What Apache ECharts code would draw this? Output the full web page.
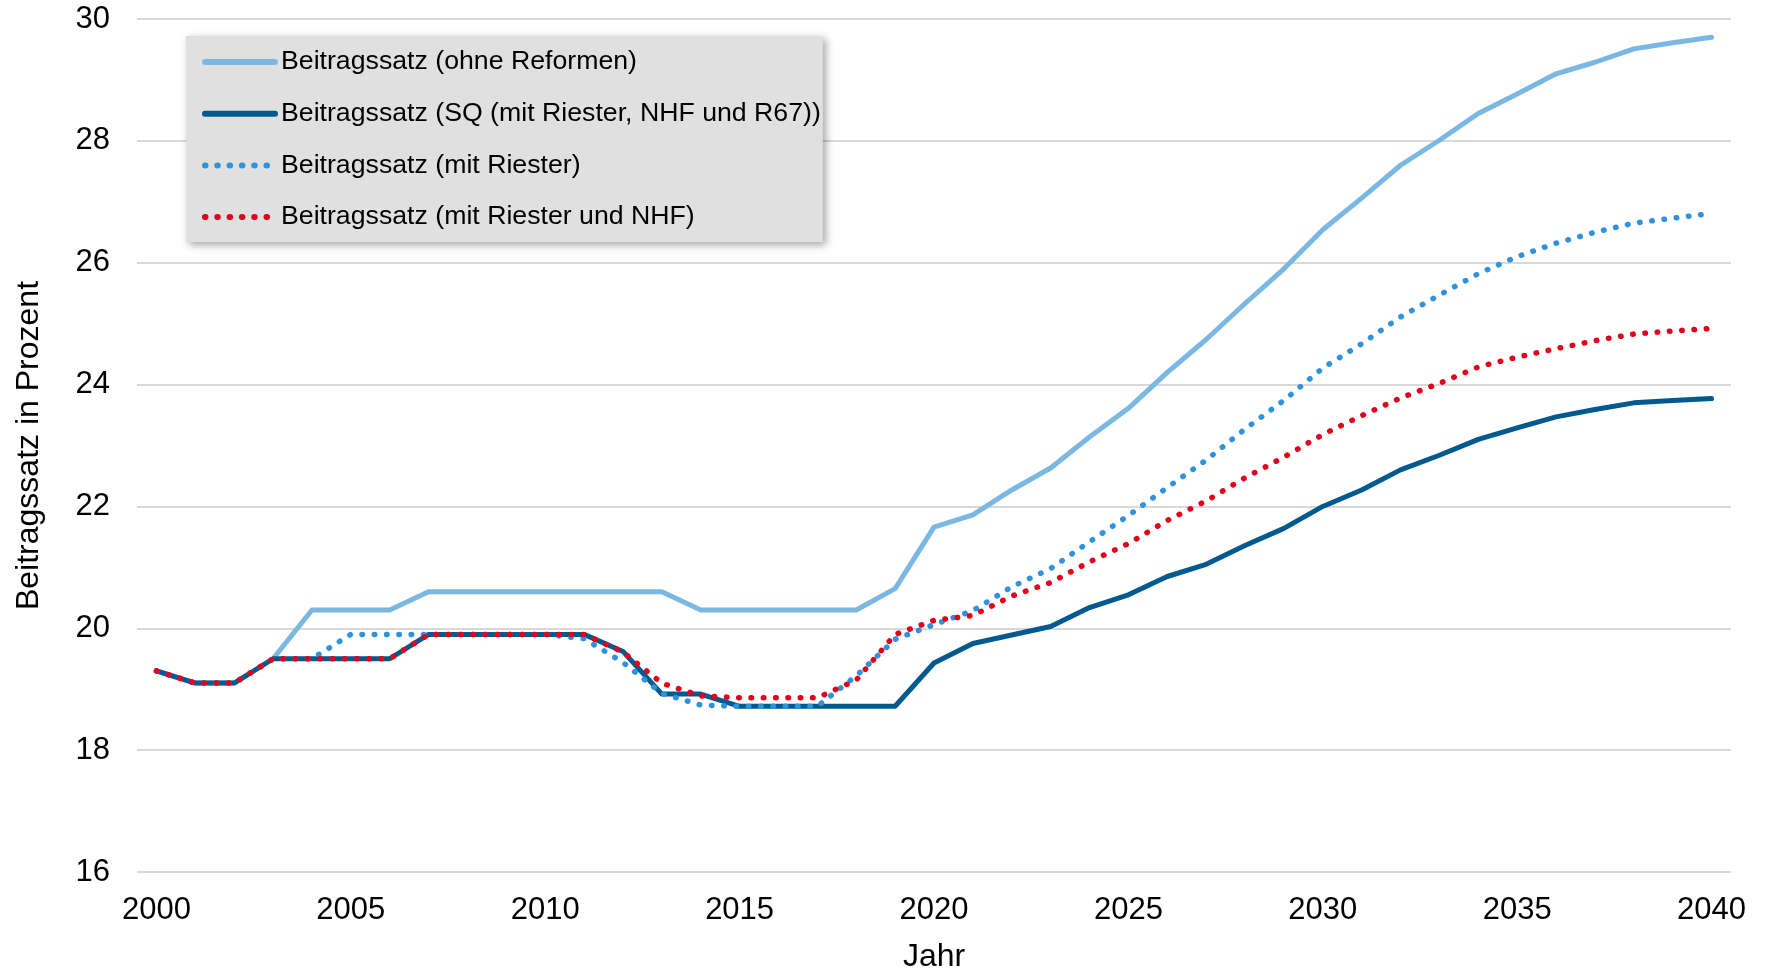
<!DOCTYPE html>
<html>
<head>
<meta charset="utf-8">
<script src="https://cdn.jsdelivr.net/npm/echarts@6/dist/echarts.min.js"></script>
<style>
  html, body { margin: 0; padding: 0; background: #ffffff; }
  #chart { width: 1766px; height: 969px; }
</style>
</head>
<body>
<div id="chart"></div>
<script>
// Jahre (Kategorienachse)
const years = ['2000','2001','2002','2003','2004','2005','2006','2007','2008','2009',
  '2010','2011','2012','2013','2014','2015','2016','2017','2018','2019',
  '2020','2021','2022','2023','2024','2025','2026','2027','2028','2029',
  '2030','2031','2032','2033','2034','2035','2036','2037','2038','2039','2040'];

// Beitragssatz in Prozent je Szenario
const ohneReformen = [19.3,19.1,19.1,19.5,20.3,20.3,20.3,20.6,20.6,20.6,
  20.6,20.6,20.6,20.6,20.3,20.3,20.3,20.3,20.3,20.65,
  21.66,21.86,22.27,22.63,23.14,23.61,24.2,24.74,25.33,25.9,
  26.54,27.06,27.6,28.01,28.45,28.77,29.1,29.29,29.51,29.61,29.7];

const statusQuo = [19.3,19.1,19.1,19.5,19.5,19.5,19.5,19.9,19.9,19.9,
  19.9,19.9,19.62,18.92,18.92,18.72,18.72,18.72,18.72,18.72,
  19.43,19.75,19.89,20.03,20.34,20.55,20.85,21.05,21.36,21.64,
  22.0,22.27,22.6,22.84,23.1,23.29,23.47,23.59,23.7,23.74,23.77];

const mitRiester = [19.3,19.1,19.1,19.5,19.5,19.9,19.9,19.9,19.9,19.9,
  19.9,19.83,19.44,18.93,18.74,18.72,18.72,18.72,19.22,19.82,
  20.06,20.29,20.68,20.98,21.42,21.85,22.31,22.76,23.27,23.74,
  24.27,24.67,25.11,25.47,25.82,26.1,26.32,26.5,26.65,26.73,26.81];

const mitRiesterNHF = [19.3,19.1,19.1,19.5,19.5,19.5,19.5,19.9,19.9,19.9,
  19.9,19.9,19.61,19.1,18.89,18.86,18.86,18.86,19.15,19.9,
  20.13,20.21,20.53,20.75,21.09,21.39,21.77,22.09,22.47,22.81,
  23.18,23.49,23.78,24.02,24.29,24.45,24.59,24.72,24.83,24.88,24.92];

const seriesNames = [
  'Beitragssatz (ohne Reformen)',
  'Beitragssatz (SQ (mit Riester, NHF und R67))',
  'Beitragssatz (mit Riester)',
  'Beitragssatz (mit Riester und NHF)'
];

const FONT = '"Liberation Sans", Arial, sans-serif';

const chart = echarts.init(document.getElementById('chart'), null, { renderer: 'canvas' });

function lineSeries(name, data, color, dotted) {
  return {
    name: name,
    type: 'line',
    data: data,
    symbol: 'none',
    showSymbol: false,
    smooth: false,
    silent: true,
    lineStyle: dotted
      ? { color: color, width: 5.5, type: [0.5, 11.8], cap: 'round', join: 'round' }
      : { color: color, width: 5, type: 'solid', cap: 'round', join: 'round' },
    itemStyle: { color: color }
  };
}

chart.setOption({
  animation: false,
  backgroundColor: '#ffffff',
  textStyle: { fontFamily: FONT },
  // feste Zeichenfläche, ohne automatisches Einrücken für Beschriftungen
  grid: { left: 137, right: 35, top: 19, bottom: 97, containLabel: false, outerBoundsMode: 'none' },
  legend: {
    orient: 'vertical',
    left: 186,
    top: 36,
    padding: [11, 2, 10, 16],
    itemWidth: 70,
    itemHeight: 14,
    itemGap: 21.7,
    backgroundColor: '#E0E0E0',
    shadowColor: 'rgba(0,0,0,0.35)',
    shadowBlur: 8,
    shadowOffsetX: 3,
    shadowOffsetY: 3,
    selectedMode: false,
    // Legendensymbol: nur die Linie, ohne Punktmarker
    itemStyle: { opacity: 0, borderWidth: 0 },
    lineStyle: { width: 6, cap: 'round' },
    textStyle: { fontFamily: FONT, fontSize: 26.7, color: '#000000', lineHeight: 30, padding: [0, 0, 0, 1] },
    data: seriesNames
  },
  xAxis: {
    type: 'category',
    data: years,
    boundaryGap: true,
    name: 'Jahr',
    nameLocation: 'middle',
    nameGap: 69,
    nameTextStyle: { fontFamily: FONT, fontSize: 32, color: '#000000' },
    axisLine: { show: false },
    axisTick: { show: false },
    axisLabel: { interval: 4, margin: 23, fontFamily: FONT, fontSize: 31, color: '#000000' },
    splitLine: { show: false }
  },
  yAxis: {
    type: 'value',
    min: 16,
    max: 30,
    interval: 2,
    name: 'Beitragssatz in Prozent',
    nameLocation: 'middle',
    nameGap: 92,
    nameTextStyle: { fontFamily: FONT, fontSize: 32, color: '#000000' },
    axisLine: { show: false },
    axisTick: { show: false },
    axisLabel: { margin: 27, fontFamily: FONT, fontSize: 31, color: '#000000' },
    splitLine: { show: true, lineStyle: { color: '#D9D9D9', width: 2 } }
  },
  series: [
    lineSeries(seriesNames[0], ohneReformen, '#7AB8E3', false),
    lineSeries(seriesNames[1], statusQuo, '#00598F', false),
    lineSeries(seriesNames[2], mitRiester, '#2F92DC', true),
    lineSeries(seriesNames[3], mitRiesterNHF, '#E3001B', true)
  ]
});
</script>
</body>
</html>
